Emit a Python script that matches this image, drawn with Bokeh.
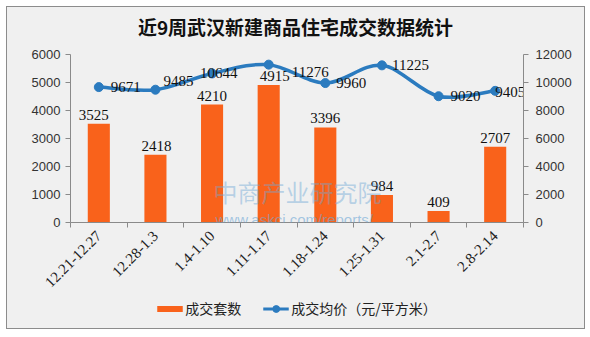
import math
from bokeh.plotting import figure
from bokeh.layouts import column
from bokeh.models import (Range1d, LinearAxis, FixedTicker, Legend, LegendItem, Label, Div)
from bokeh.embed import file_html
from bokeh.resources import INLINE
from bokeh.core.properties import value

# ---------------- data ----------------
title_text = "近9周武汉新建商品住宅成交数据统计"
categories = ["12.21-12.27", "12.28-1.3", "1.4-1.10", "1.11-1.17",
              "1.18-1.24", "1.25-1.31", "2.1-2.7", "2.8-2.14"]
units = [3525, 2418, 4210, 4915, 3396, 984, 409, 2707]          # 成交套数
price = [9671, 9485, 10644, 11276, 9960, 11225, 9020, 9405]     # 成交均价
left_ticks = [0, 1000, 2000, 3000, 4000, 5000, 6000]
right_ticks = [0, 2000, 4000, 6000, 8000, 10000, 12000]
bar_name = "成交套数"
line_name = "成交均价（元/平方米）"

BAR = "#f9621b"
LINE = "#2b7bbf"
AX = "#8a8a8a"
BG = "#f0f0f0"

# label nudges in pixels (style only, as in the source chart)
bar_lbl_dx = [-5, 1, 0, 6, 0, 0, 0, 0]
line_lbl_dx = [12, 8, -12, 23, 11, 10, 12, 0]
line_lbl_dy = [0, -9, 0, 7, 0, 0, 0, 1]

n = len(categories)
xs = [i + 0.5 for i in range(n)]

title_div = Div(text=('<div style="width:577px;font-family:\'Noto Sans CJK SC\';font-size:19px;'
                      'font-weight:bold;color:#111111;text-align:center;'
                      'line-height:19px;padding-top:10px;white-space:nowrap;">'
                      + title_text + '</div>'),
                width=577, height=34, margin=0)

p = figure(frame_width=453, frame_height=168, output_backend="svg", toolbar_location=None,
           title=None,
           x_range=Range1d(0, n), y_range=Range1d(left_ticks[0], left_ticks[-1]),
           min_border_left=63, min_border_right=61, min_border_top=13,
           min_border_bottom=72,
           background_fill_color=BG, border_fill_color=BG, outline_line_color=None)
p.margin = 0
p.extra_y_ranges = {"right": Range1d(right_ticks[0], right_ticks[-1])}
p.xgrid.visible = False
p.ygrid.visible = False

tick_font = "Liberation Sans"

# left axis
ya = p.yaxis[0]
ya.ticker = FixedTicker(ticks=left_ticks)
ya.axis_line_color = AX
ya.major_tick_line_color = AX
ya.major_tick_in = 0
ya.major_tick_out = 5
ya.minor_tick_line_color = None
ya.major_label_text_font = tick_font
ya.major_label_text_font_size = "13px"
ya.major_label_text_color = "#333333"
ya.major_label_standoff = 5

# right axis
ra = LinearAxis(y_range_name="right", ticker=FixedTicker(ticks=right_ticks))
ra.axis_line_color = AX
ra.major_tick_line_color = AX
ra.major_tick_in = 0
ra.major_tick_out = 5
ra.minor_tick_line_color = None
ra.major_label_text_font = tick_font
ra.major_label_text_font_size = "13px"
ra.major_label_text_color = "#333333"
ra.major_label_standoff = 7
p.add_layout(ra, "right")

# x axis
xa = p.xaxis[0]
xa.ticker = FixedTicker(ticks=xs, minor_ticks=list(range(n + 1)))
xa.major_label_overrides = {xv: c for xv, c in zip(xs, categories)}
xa.axis_line_color = AX
xa.major_tick_line_color = None
xa.major_tick_in = 0
xa.major_tick_out = 0
xa.minor_tick_line_color = AX
xa.minor_tick_in = 0
xa.minor_tick_out = 5
xa.major_label_orientation = math.pi / 4
xa.major_label_text_font = "Liberation Serif"
xa.major_label_text_font_size = "15px"
xa.major_label_text_color = "#222222"
xa.major_label_standoff = 6

# watermark
wm1 = Label(x=143, y=14, x_units="screen", y_units="screen", text="中商产业研究院",
            text_font="Noto Sans CJK SC", text_font_size="24px",
            text_color="#6ea8d6", text_alpha=0.45)
wm2 = Label(x=145, y=-5, x_units="screen", y_units="screen", text="www.askci.com/reports/",
            text_font="Liberation Sans", text_font_size="15px",
            text_color="#6ea8d6", text_alpha=0.6)

# bars
bars = p.vbar(x=xs, top=units, width=0.39, fill_color=BAR, line_color=None)

p.text(x=xs, y=units, text=[str(u) for u in units], text_align="center",
       text_baseline="alphabetic", x_offset=bar_lbl_dx, y_offset=-9,
       text_font=value("Liberation Serif"), text_font_size="15px", text_color="#111111")

# smooth line (Catmull-Rom converted to cubic Bezier segments)
x0s, y0s, x1s, y1s, cx0s, cy0s, cx1s, cy1s = [], [], [], [], [], [], [], []
for i in range(n - 1):
    pa = (xs[max(i - 1, 0)], price[max(i - 1, 0)])
    pb = (xs[i], price[i])
    pc = (xs[i + 1], price[i + 1])
    pd = (xs[min(i + 2, n - 1)], price[min(i + 2, n - 1)])
    x0s.append(pb[0]); y0s.append(pb[1])
    x1s.append(pc[0]); y1s.append(pc[1])
    cx0s.append(pb[0] + (pc[0] - pa[0]) / 6); cy0s.append(pb[1] + (pc[1] - pa[1]) / 6)
    cx1s.append(pc[0] - (pd[0] - pb[0]) / 6); cy1s.append(pc[1] - (pd[1] - pb[1]) / 6)
curve = p.bezier(x0=x0s, y0=y0s, x1=x1s, y1=y1s, cx0=cx0s, cy0=cy0s, cx1=cx1s, cy1=cy1s,
                 line_color=LINE, line_width=3.5, y_range_name="right")
pts = p.scatter(x=xs, y=price, size=9, fill_color=LINE, line_color=LINE,
                y_range_name="right")
p.text(x=xs, y=price, text=[str(v) for v in price], text_align="left",
       text_baseline="middle", x_offset=line_lbl_dx, y_offset=line_lbl_dy,
       text_font=value("Liberation Serif"), text_font_size="15px", text_color="#111111",
       y_range_name="right")

p.add_layout(wm1)
p.add_layout(wm2)

# legend strip (separate small figure below the chart)
leg = figure(width=577, height=34, output_backend="svg", toolbar_location=None, title=None,
             x_range=Range1d(0, 1), y_range=Range1d(0, 1),
             min_border_left=0, min_border_right=0, min_border_top=0, min_border_bottom=6,
             background_fill_color=BG, border_fill_color=BG, outline_line_color=None)
leg.margin = 0
leg.axis.visible = False
leg.grid.visible = False
bar_key = leg.line(x=[-2, -1], y=[-2, -1], line_color=BAR, line_width=6)
line_key = leg.line(x=[-2, -1], y=[-2, -1], line_color=LINE, line_width=3)
mk_key = leg.scatter(x=[-2], y=[-2], size=9, fill_color=LINE, line_color=LINE)
legend = Legend(items=[LegendItem(label=bar_name, renderers=[bar_key]),
                       LegendItem(label=line_name, renderers=[line_key, mk_key])],
                orientation="horizontal", location="center",
                glyph_width=26, glyph_height=17, label_standoff=3, spacing=21,
                padding=0, margin=0, border_line_color=None,
                background_fill_color=None,
                label_text_font="Noto Sans CJK SC", label_text_font_size="14px",
                label_text_color="#222222")
leg.add_layout(legend)

layout = column(title_div, p, leg, spacing=0)
layout.margin = (6, 6, 9, 6)
layout.styles = {"border": "1px solid #8c8c8c", "background-color": BG}

open("out.html", "w").write(file_html(layout, INLINE))
